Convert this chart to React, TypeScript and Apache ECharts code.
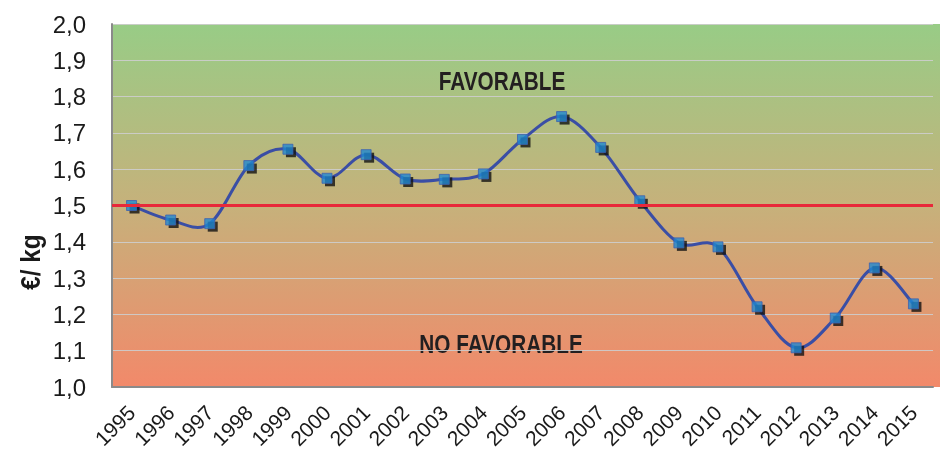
import React, { useEffect, useRef } from "react";
import * as echarts from "echarts";

const years = ["1995","1996","1997","1998","1999","2000","2001","2002","2003","2004","2005","2006","2007","2008","2009","2010","2011","2012","2013","2014","2015"];
const prices = [1.50,1.46,1.45,1.61,1.655,1.575,1.64,1.573,1.572,1.587,1.682,1.745,1.66,1.513,1.397,1.386,1.221,1.108,1.19,1.328,1.229];
const threshold = 1.5;
const yMin = 1.0;
const yMax = 2.0;
const yStep = 0.1;
const labelTop = "FAVORABLE";
const labelBottom = "NO FAVORABLE";
const yAxisTitle = "€/ kg";

const FONT = "'Liberation Sans', Arial, sans-serif";

function smoothPath(pts: number[][]): string {
  // Catmull-Rom style bezier (Excel-like smoothing)
  let d = `M${pts[0][0]},${pts[0][1]}`;
  for (let i = 0; i < pts.length - 1; i++) {
    const p0 = pts[i - 1] || pts[i];
    const p1 = pts[i];
    const p2 = pts[i + 1];
    const p3 = pts[i + 2] || pts[i + 1];
    const c1x = p1[0] + (p2[0] - p0[0]) / 6;
    const c1y = p1[1] + (p2[1] - p0[1]) / 6;
    const c2x = p2[0] - (p3[0] - p1[0]) / 6;
    const c2y = p2[1] - (p3[1] - p1[1]) / 6;
    d += ` C${c1x},${c1y} ${c2x},${c2y} ${p2[0]},${p2[1]}`;
  }
  return d;
}

export default function App() {
  const ref = useRef<HTMLDivElement>(null);
  useEffect(() => {
    if (!ref.current) return;
    const chart = echarts.init(ref.current, null, { renderer: "svg" });
    chart.setOption({
      animation: false,
      textStyle: { fontFamily: FONT },
      grid: { left: 112, top: 24, right: 8, bottom: 67, containLabel: false },
      graphic: [
        {
          type: "rect",
          z: -10,
          shape: { x: 112, y: 24, width: 828, height: 363 },
          style: {
            fill: new echarts.graphic.LinearGradient(0, 0, 0, 1, [
              { offset: 0, color: "#98CC86" },
              { offset: 0.5, color: "#C6B17B" },
              { offset: 1, color: "#F2896A" },
            ]),
          },
        },
        {
          type: "text",
          x: 502,
          y: 81,
          scaleX: 0.8,
          style: { text: labelTop, fontSize: 26, fontWeight: "bold", fontFamily: FONT, fill: "#231f20", align: "center", verticalAlign: "middle" },
        },
        {
          type: "text",
          x: 501,
          y: 344,
          scaleX: 0.8,
          style: { text: labelBottom, fontSize: 26, fontWeight: "bold", fontFamily: FONT, fill: "#231f20", align: "center", verticalAlign: "middle" },
        },
        {
          type: "text",
          x: 31,
          y: 262,
          rotation: Math.PI / 2,
          scaleX: 0.9,
          style: { text: yAxisTitle, fontSize: 27, fontWeight: "bold", fontFamily: FONT, fill: "#1a1a1a", align: "center", verticalAlign: "middle" },
        },
      ],
      xAxis: {
        type: "category",
        data: years,
        boundaryGap: true,
        axisLine: { lineStyle: { color: "#8a8a8a", width: 2 } },
        axisTick: { show: false },
        axisLabel: { rotate: 45, fontSize: 21, color: "#1a1a1a", margin: 22, interval: 0, fontFamily: FONT },
        splitLine: { show: false },
      },
      yAxis: {
        type: "value",
        min: yMin,
        max: yMax,
        interval: yStep,
        axisLine: { show: true, lineStyle: { color: "#8a8a8a", width: 2 } },
        axisTick: { show: false },
        axisLabel: {
          fontSize: 24,
          color: "#1a1a1a",
          margin: 26,
          fontFamily: FONT,
          formatter: (v: number) => v.toFixed(1).replace(".", ","),
        },
        splitLine: { show: true, lineStyle: { color: "rgba(205,205,205,0.9)", width: 1 } },
      },
      series: [
        {
          type: "custom",
          data: prices.map((v, i) => [i, v]),
          z: 2,
          renderItem: (params: any, api: any) => {
            if (params.dataIndex !== 0) return null;
            const pts = prices.map((v, i) => api.coord([i, v]));
            return {
              type: "path",
              shape: { pathData: smoothPath(pts) },
              style: { stroke: "#3a4ea5", lineWidth: 3, fill: "none" },
            };
          },
          markLine: {
            silent: true,
            symbol: "none",
            label: { show: false },
            lineStyle: { color: "#e8283a", width: 3, type: "solid" },
            data: [{ yAxis: threshold }],
          },
        },
        {
          type: "scatter",
          data: prices,
          symbol: "rect",
          symbolSize: 10,
          symbolOffset: [3, 3],
          itemStyle: { color: "#111111" },
          z: 3,
        },
        {
          type: "scatter",
          data: prices,
          symbol: "rect",
          symbolSize: 10,
          itemStyle: { color: "#1f88d2", borderColor: "#3d62b0", borderWidth: 1 },
          z: 4,
        },
      ],
    });
    return () => chart.dispose();
  }, []);
  return <div ref={ref} style={{ position: "fixed", left: 0, top: 0, width: 941, height: 454 }} />;
}
